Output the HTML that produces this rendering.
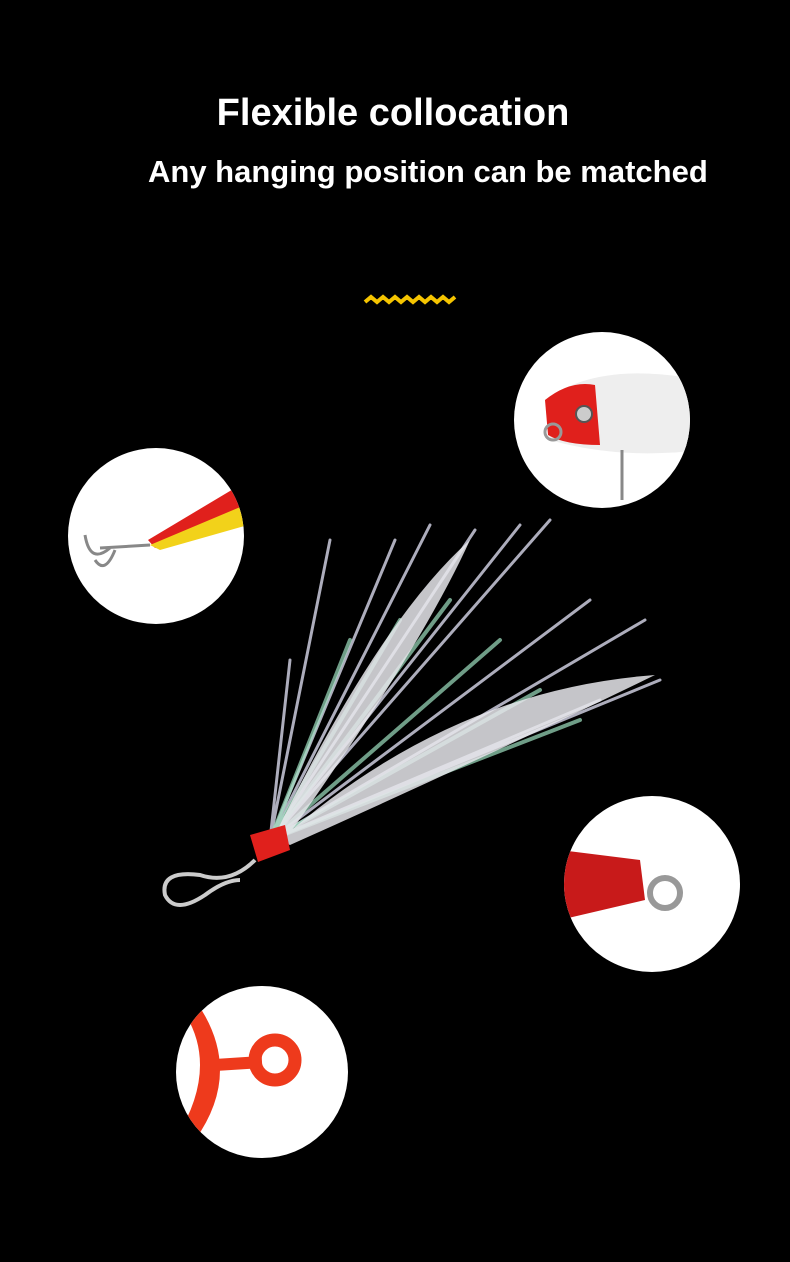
<!DOCTYPE html>
<html><head><meta charset="utf-8"><style>
html,body{margin:0;padding:0;background:#000;}
body{width:790px;height:1262px;position:relative;overflow:hidden;font-family:"Liberation Sans",sans-serif;}
.t1{position:absolute;left:0;width:790px;top:92px;text-align:center;color:#fff;font-weight:bold;font-size:38px;}
.t1 span{position:relative;left:-2px;}
.t2{position:absolute;left:148px;top:154px;color:#fff;font-weight:bold;font-size:31px;white-space:nowrap;}
</style></head><body>
<div class="t1"><span>Flexible collocation</span></div>
<div class="t2">Any hanging position can be matched</div>
<svg width="790" height="1262" style="position:absolute;left:0;top:0">
<polyline points="365,302 371,297 377,302 383,297 389,302 395,297 401,302 407,297 413,302 419,297 425,302 431,297 437,302 443,297 449,302 455,297" fill="none" stroke="#f5c400" stroke-width="4"/>
<defs><clipPath id="c1"><circle cx="602" cy="420" r="88"/></clipPath>
<clipPath id="c2"><circle cx="156" cy="536" r="88"/></clipPath>
<clipPath id="c3"><circle cx="652" cy="884" r="88"/></clipPath>
<clipPath id="c4"><circle cx="262" cy="1072" r="86"/></clipPath></defs>
<circle cx="602" cy="420" r="88" fill="#fff"/>
<g clip-path="url(#c1)"><path d="M545,400 Q600,360 700,380 L700,450 Q620,460 550,440 Z" fill="#eee"/><path d="M545,400 Q570,380 595,385 L600,445 Q565,445 548,435 Z" fill="#e0201c"/><circle cx="584" cy="414" r="8" fill="#ccc" stroke="#555" stroke-width="2"/><circle cx="553" cy="432" r="8" fill="none" stroke="#999" stroke-width="3"/><line x1="622" y1="450" x2="622" y2="500" stroke="#888" stroke-width="3"/></g>
<circle cx="156" cy="536" r="88" fill="#fff"/>
<g clip-path="url(#c2)"><path d="M148,540 L240,485 L248,505 L155,548 Z" fill="#e0201c"/><path d="M150,545 L245,505 L248,525 L160,550 Z" fill="#f2d21a"/><line x1="100" y1="548" x2="150" y2="545" stroke="#888" stroke-width="3"/><path d="M85,535 Q90,565 110,548 M95,560 Q105,575 115,550" fill="none" stroke="#888" stroke-width="3"/></g>
<circle cx="652" cy="884" r="88" fill="#fff"/>
<g clip-path="url(#c3)"><path d="M560,850 L640,860 L645,900 L560,920 Z" fill="#c81a1a"/><circle cx="665" cy="893" r="15" fill="none" stroke="#999" stroke-width="6"/></g>
<circle cx="262" cy="1072" r="86" fill="#fff"/>
<g clip-path="url(#c4)"><path d="M175,1000 Q225,1060 175,1140 L195,1140 Q245,1070 195,1000 Z" fill="#ee3a1c"/><line x1="215" y1="1065" x2="262" y2="1062" stroke="#ee3a1c" stroke-width="12"/><circle cx="275" cy="1060" r="20" fill="none" stroke="#ee3a1c" stroke-width="13"/></g>
<g stroke-linecap="round">
<path d="M270,840 L330,540 M270,840 L395,540 M270,840 L430,525 M270,840 L475,530 M270,840 L520,525 M270,840 L550,520 M270,840 L590,600 M270,840 L645,620 M270,840 L660,680 M270,840 L600,700 M270,840 L290,660 M270,840 L310,640" stroke="#ccd" stroke-width="3" opacity="0.85"/>
<path d="M270,840 L350,640 M270,840 L400,620 M270,840 L450,600 M270,840 L500,640 M270,840 L540,690 M270,840 L580,720" stroke="#9fe0c0" stroke-width="4" opacity="0.7"/>
<path d="M275,835 Q380,620 470,540 Q420,650 285,840 Z M280,840 Q450,690 655,675 Q480,760 290,845 Z" fill="#e8e8ec" opacity="0.85"/>
</g>
<path d="M250,835 L285,825 L290,850 L258,862 Z" fill="#e0201c"/>
<path d="M255,860 Q230,885 200,875 Q160,870 165,895 Q175,915 205,895 Q225,880 240,880" fill="none" stroke="#ccc" stroke-width="4"/>
</svg>
</body></html>
